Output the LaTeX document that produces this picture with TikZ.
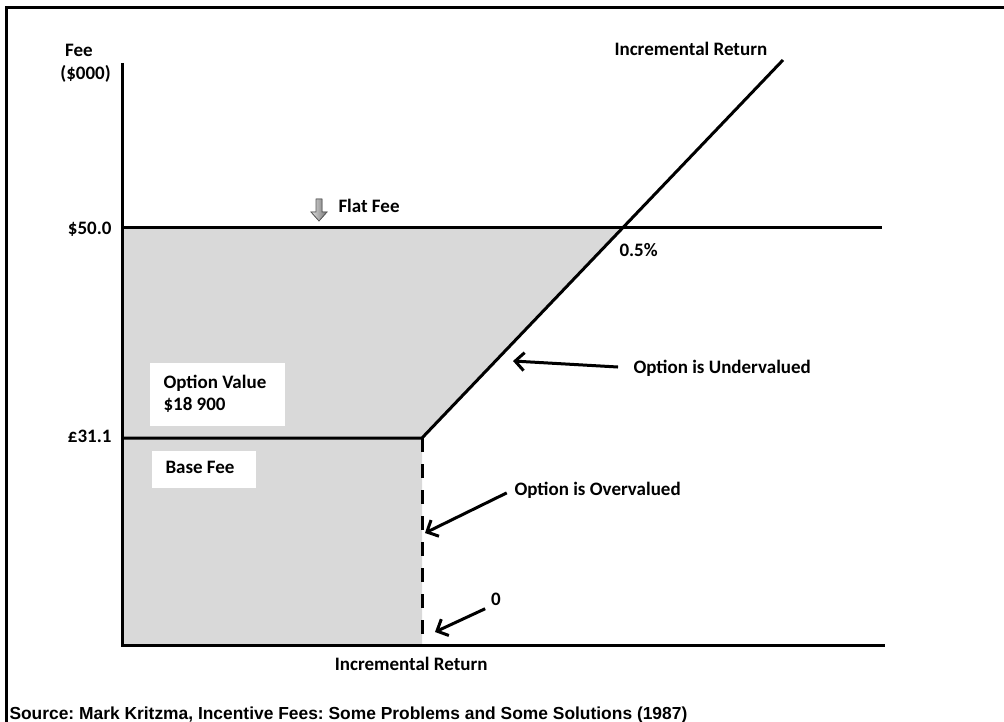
\documentclass[tikz,border=0pt]{standalone}
\usepackage{fontspec}
\setmainfont{Carlito}
\newfontfamily\sourcefont{Liberation Sans}
\usetikzlibrary{positioning,calc,arrows.meta}
\definecolor{areagray}{RGB}{217,217,217}
\frenchspacing
\tikzset{
    label/.style={inner sep=0pt, font=\fontsize{19}{22}\selectfont\bfseries},
    labelbox/.style={fill=white, draw=none, inner sep=0pt},
    pointer/.style={line width=3pt, -{Straight Barb[length=9pt,width=18pt]}},
}

\begin{document}
\begin{tikzpicture}[x=1pt, y=-1pt, line width=3pt]
    \useasboundingbox (0,0) rectangle (1004,722);
    \fill[white] (0,0) rectangle (1004,722);

    % frame
    \coordinate (FrameCorner) at (6,7.5);
    \coordinate (FrameRight) at (1004,7.5);
    \coordinate (FrameBottom) at (6,722);
    \draw (FrameBottom) -- (FrameCorner) -- (FrameRight);

    \coordinate (Origin) at (122,645);
    \coordinate (AxisTop) at (122,63);
    \coordinate (AxisRight) at (885,645);
    \coordinate (FlatLeft) at (122,228);
    \coordinate (FlatRight) at (882,228);
    \coordinate (Cross) at (622,228);
    \coordinate (BaseLeft) at (122,438);
    \coordinate (Kink) at (422,438);
    \coordinate (Foot) at (422,645);
    \coordinate (LineTop) at (783,60);

    \fill[areagray] (FlatLeft) -- (Cross) -- (Kink) -- (Foot) -- (Origin) -- cycle;

    \draw (AxisTop) -- (Origin) -- (AxisRight);
    \draw (FlatLeft) -- (FlatRight);
    \draw (BaseLeft) -- (Kink) -- (LineTop);
    \draw[dash pattern=on 14pt off 12pt] (Kink) -- (Foot);

    % axis labels
    \node[label, anchor=base] at (79,57) (FeeLabel) {Fee};
    \node[label, anchor=base] at (85.5,80) (UnitLabel) {(\$000)};
    \node[label, anchor=base east] at (113,234) (FlatValue) {\$50.0};
    \node[label, anchor=base east] at (113,442) (BaseValue) {£31.1};
    \node[label, anchor=base west] at (613,56) (TopReturn) {Incremental Return};
    \node[label, anchor=base east] at (489,670) (BottomReturn) {Incremental Return};
    \node[label, anchor=base west] at (618,257) (BreakEven) {0.5\%};

    % flat fee marker
    \filldraw[draw=black!65, line width=0.8pt, left color=gray!25, right color=black!55]
        (316,199) -- (322,199) -- (322,212) -- (327,212) -- (319,221)
        -- (311,212) -- (316,212) -- cycle;
    \node[label, anchor=base west] at (337,213) (FlatFee) {Flat Fee};

    % boxes
    \node[labelbox, anchor=north west, minimum width=135pt, minimum height=63pt] at (148,361) (OptionBox) {};
    \node[label, anchor=base west] at (162,388) (OptionText) {Option Value};
    \node[label, anchor=base west] at (162,410) (OptionAmount) {\$18 900};
    \node[labelbox, anchor=north west, minimum width=104pt, minimum height=37pt] at (150,449) (BaseBox) {};
    \node[label, anchor=base west] at (164,473) (BaseText) {Base Fee};

    % callouts
    \node[label, anchor=base west] at (632,373) (Under) {Option is Undervalued};
    \coordinate (UnderTip) at (513,361);
    \draw[pointer, shorten <=14pt] (Under.west) -- (UnderTip);

    \node[label, anchor=base west] at (513,495) (Over) {Option is Overvalued};
    \coordinate (OverTip) at (425,533);
    \draw[pointer, shorten <=7pt] (Over.west) -- (OverTip);

    \node[label, anchor=base] at (496,605) (Zero) {0};
    \coordinate (ZeroTip) at (435,632);
    \draw[pointer, shorten <=5pt] (Zero.south west) -- (ZeroTip);

    % \node[label] at (500,700) {};
    \node[anchor=base west, inner sep=0pt, font=\sourcefont\fontsize{17.4}{20}\selectfont\bfseries] at (8,719) (Source)
        {Source: Mark Kritzma, Incentive Fees: Some Problems and Some Solutions (1987)};
\end{tikzpicture}
\end{document}
